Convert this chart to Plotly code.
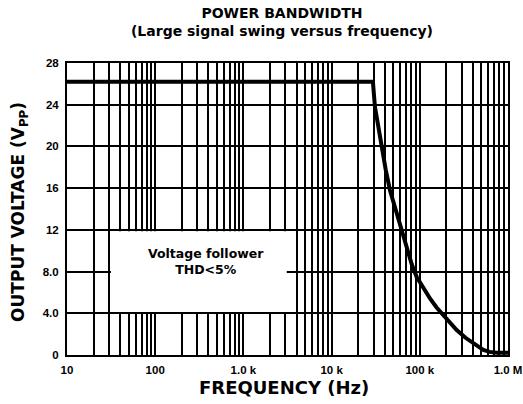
import plotly.graph_objects as go

# Curve data
freq_hz = [10, 29400, 31000, 33800, 37000, 41000, 45900, 51000, 57000, 64000, 71000,
           81000, 92000, 110000, 131000, 155000, 185000, 220000, 262000, 330000,
           405000, 460000, 525000, 620000, 745000, 1000000]
vout_vpp = [26.2, 26.2, 23.8, 21.9, 20.0, 17.8, 15.8, 14.5, 13.1, 11.5, 10.1,
            8.7, 7.5, 6.4, 5.4, 4.55, 3.8, 3.05, 2.4, 1.65,
            1.12, 0.75, 0.48, 0.3, 0.22, 0.22]

x_decades = [10, 100, 1000, 10000, 100000, 1000000]
x_tick_labels = ["10", "100", "1.0 k", "10 k", "100 k", "1.0 M"]
y_ticks = [0, 4, 8, 12, 16, 20, 24, 28]
y_tick_labels = ["0", "4.0", "8.0", "12", "16", "20", "24", "28"]

note_lines = ["Voltage follower", "THD&lt;5%"]

# Minor grid positions: 2..9 per decade
x_minor = [d * m for d in x_decades[:-1] for m in range(2, 10)]

FONT = "DejaVu Sans"
TICKFONT = "Liberation Sans"

fig = go.Figure()
fig.add_trace(go.Scatter(
    x=freq_hz, y=vout_vpp, mode="lines",
    line=dict(color="black", width=4),
    showlegend=False, hoverinfo="skip"))

fig.add_shape(type="rect", xref="x", yref="y", x0=31.5, x1=3100, y0=4.13, y1=11.87,
              fillcolor="white", line=dict(width=0), layer="above")

fig.add_annotation(x=2.58, y=8.96, xref="x", yref="y",
                   text="<b>" + "<br>".join(note_lines) + "</b>",
                   showarrow=False, font=dict(family=FONT, size=12.5, color="black"),
                   align="center")

# axis titles as annotations
fig.add_annotation(x=-0.1066, y=0.49, xref="paper", yref="paper",
                   text="<b>OUTPUT VOLTAGE (V<sub>PP</sub>)</b>", textangle=-90,
                   showarrow=False, xanchor="center", yanchor="middle",
                   font=dict(family=FONT, size=17, color="black"))
fig.add_annotation(x=0.492, y=-0.1096, xref="paper", yref="paper",
                   text="<b>FREQUENCY (Hz)</b>",
                   showarrow=False, xanchor="center", yanchor="middle",
                   font=dict(family=FONT, size=18, color="black"))

fig.update_layout(
    width=523, height=404,
    margin=dict(l=67, r=15, t=63, b=49),
    paper_bgcolor="white", plot_bgcolor="white",
    title=dict(text="<b>POWER BANDWIDTH<br>(Large signal swing versus frequency)</b>",
               xref="paper", x=0.4875, xanchor="center", y=0.955, yanchor="top",
               font=dict(family=FONT, size=14, color="black")),
    font=dict(family=FONT, color="black"),
)

fig.update_xaxes(
    type="log", range=[1, 6], automargin=False,
    tickmode="array", tickvals=x_decades, ticktext=x_tick_labels, tickangle=0,
    tickfont=dict(family=TICKFONT, size=11.5, color="black", weight="bold"),
    ticklabeloverflow="allow",
    showgrid=True, gridcolor="black", gridwidth=2,
    minor=dict(tickmode="array", tickvals=x_minor, showgrid=True,
               gridcolor="black", gridwidth=2, ticks=""),
    showline=True, linecolor="black", linewidth=2, mirror=True,
    ticks="", ticklabelstandoff=3,
    zeroline=False,
)
fig.update_yaxes(
    range=[0, 28], automargin=False,
    tickmode="array", tickvals=y_ticks, ticktext=y_tick_labels,
    tickfont=dict(family=TICKFONT, size=11.5, color="black", weight="bold"),
    ticklabeloverflow="allow",
    showgrid=True, gridcolor="black", gridwidth=2,
    showline=True, linecolor="black", linewidth=2, mirror=True,
    ticks="", ticklabelstandoff=4,
    zeroline=False,
)

fig.write_html("out.html", config={"displayModeBar": False},
               post_script="document.body.style.margin='0';")
